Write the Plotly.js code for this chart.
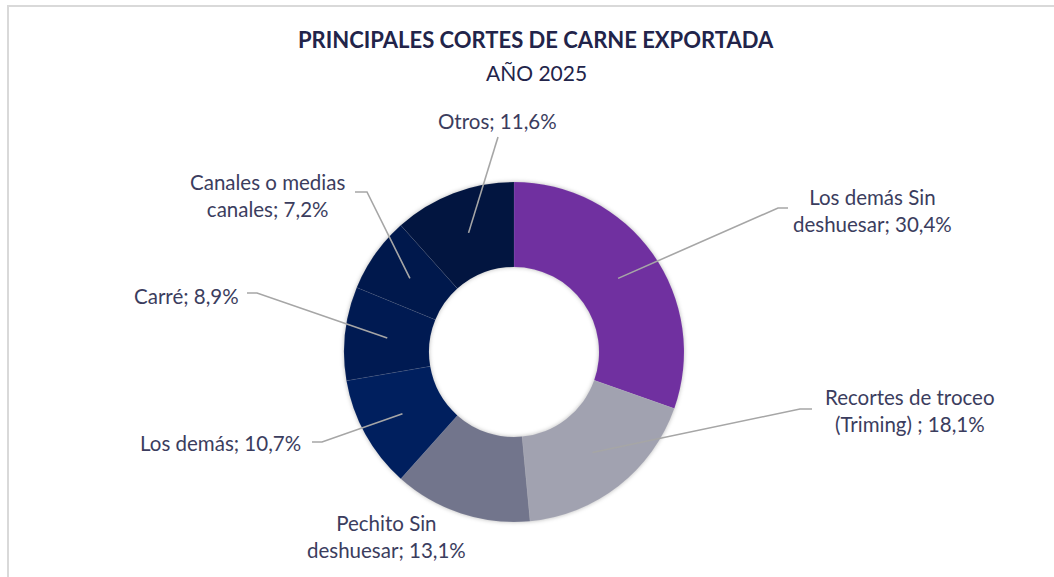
<!DOCTYPE html>
<html>
<head>
<meta charset="utf-8">
<script src="https://cdn.plot.ly/plotly-3.0.1.min.js"></script>
<style>
  html, body { margin: 0; padding: 0; background: #ffffff; }
  #wrap { position: relative; width: 1054px; height: 577px; overflow: hidden; }
  #frame { position: absolute; left: 7px; top: 5px; width: 1100px; height: 700px;
           border-top: 2px solid #d9d9d9; border-left: 2px solid #d9d9d9; pointer-events: none; z-index: 5; }
  #chart { position: absolute; left: 0; top: 0; width: 1054px; height: 577px; }
  #chart .pielayer .trace { filter: drop-shadow(0px 0px 2px rgba(0,0,0,0.28)); }
</style>
</head>
<body>
<div id="wrap">
  <div id="chart"></div>
  <div id="frame"></div>
</div>
<script>
// ---- Data ----
const categories = [
  "Los demás Sin deshuesar",
  "Recortes de troceo (Triming) ",
  "Pechito Sin deshuesar",
  "Los demás",
  "Carré",
  "Canales o medias canales",
  "Otros"
];
const shares = [30.4, 18.1, 13.1, 10.7, 8.9, 7.2, 11.6];
const titleText = "PRINCIPALES CORTES DE CARNE EXPORTADA";
const subtitleText = "AÑO 2025";

// ---- Styles / layout settings ----
const colors = ["#7030a0", "#a1a2b0", "#72758c", "#001f5e", "#001a52", "#00184c", "#021540"];
const W = 1054, H = 577;
const CX = 514, CY = 352, R = 170, HOLE = 0.5;
const labelColor = "#3b3d5e";
const titleColor = "#22244a";
const FONT = "Lato, 'Open Sans', sans-serif";
const LABEL_SIZE = 20.5;

// label placement (pixels): text centre, leader start, elbow length, words before line break
const labelPlace = [
  {tx: 872, ty: 210, sx: 788, sy: 208, elbow: -10, brk: 3},
  {tx: 910, ty: 410, sx: 812, sy: 409, elbow: -12, brk: 3},
  {tx: 386, ty: 536, sx: null, sy: null, elbow: 0, brk: 2},
  {tx: 220, ty: 443, sx: 312, sy: 442, elbow: 10, brk: 0},
  {tx: 186, ty: 296, sx: 247, sy: 293, elbow: 10, brk: 0},
  {tx: 267, ty: 195, sx: 355, sy: 192, elbow: 12, brk: 3},
  {tx: 497, ty: 121, sx: 498, sy: 137, elbow: 0, brk: 0}
];

const px = x => x / W;
const py = y => 1 - y / H;
const fmt = v => v.toFixed(1).replace(".", ",") + "%";

function labelText(name, v, brk) {
  const full = name + "; " + fmt(v);
  if (!brk) return full;
  const words = full.split(" ");
  return words.slice(0, brk).join(" ") + "<br>" + words.slice(brk).join(" ");
}

const total = shares.reduce((a, b) => a + b, 0);
let cum = 0;
const annotations = [];
const shapes = [];
const ringR = R * (1 + HOLE) / 2;
shares.forEach((v, i) => {
  const mid = (cum + v / 2) / total;
  cum += v;
  const th = mid * 2 * Math.PI;
  const tipX = CX + ringR * Math.sin(th);
  const tipY = CY - ringR * Math.cos(th);
  const p = labelPlace[i];
  annotations.push({
    xref: "paper", yref: "paper", x: px(p.tx), y: py(p.ty),
    xanchor: "center", yanchor: "middle", showarrow: false, align: "center",
    text: labelText(categories[i], v, p.brk),
    font: {family: FONT, size: LABEL_SIZE, color: labelColor}
  });
  if (p.sx !== null) {
    const ex = p.sx + p.elbow;
    shapes.push({
      type: "path", xref: "paper", yref: "paper",
      path: `M ${px(p.sx)},${py(p.sy)} L ${px(ex)},${py(p.sy)} L ${px(tipX)},${py(tipY)}`,
      line: {color: "#a6a6a6", width: 1.6}
    });
  }
});

annotations.push({
  xref: "paper", yref: "paper", x: px(536), y: py(40), xanchor: "center", yanchor: "middle",
  showarrow: false, text: "<b>" + titleText + "</b>",
  font: {family: FONT, size: 22, color: titleColor}
});
annotations.push({
  xref: "paper", yref: "paper", x: px(536), y: py(72), xanchor: "center", yanchor: "middle",
  showarrow: false, text: subtitleText,
  font: {family: FONT, size: 21, color: titleColor}
});

const trace = {
  type: "pie",
  labels: categories,
  values: shares,
  hole: HOLE,
  sort: false,
  direction: "clockwise",
  rotation: 0,
  textinfo: "none",
  hoverinfo: "label+percent",
  marker: {colors: colors, line: {color: "rgba(255,255,255,0.12)", width: 0.6}},
  domain: {x: [px(CX - R), px(CX + R)], y: [py(CY + R), py(CY - R)]}
};

const layout = {
  width: W, height: H,
  margin: {l: 0, r: 0, t: 0, b: 0},
  paper_bgcolor: "#ffffff",
  showlegend: false,
  annotations: annotations,
  shapes: shapes
};

Plotly.newPlot("chart", [trace], layout, {displayModeBar: false, staticPlot: true});
</script>
</body>
</html>
